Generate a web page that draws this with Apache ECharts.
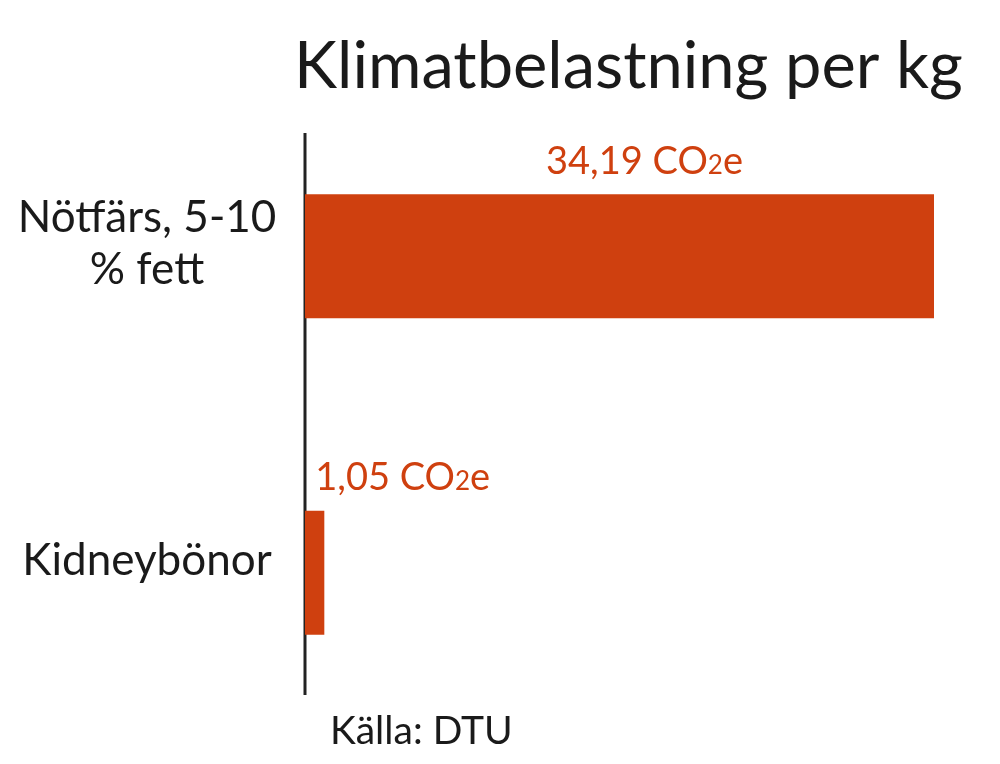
<!DOCTYPE html>
<html><head><meta charset="utf-8">
<script src="https://cdn.jsdelivr.net/npm/echarts@6/dist/echarts.min.js"></script>
<style>html,body{margin:0;padding:0;background:#fff}#c{width:1000px;height:764px}</style>
</head><body><div id="c"></div>
<script>
const categories = ["Nötfärs, 5-10\n% fett", "Kidneybönor"];
const values = [34.19, 1.05];
const valueLabels = ["34,19", "1,05"];
const titleText = "Klimatbelastning per kg";
const sourceText = "Källa: DTU";

const FONT = "Lato";
const ORANGE = "#CF400F";
const labelOffsets = [[25, 0], [88, 0]];

const chart = echarts.init(document.getElementById('c'), null, {renderer: 'canvas'});
chart.setOption({
  animation: false,
  backgroundColor: '#fff',
  title: {
    text: titleText, left: 289, top: 30,
    textStyle: {fontFamily: FONT, fontSize: 65, fontWeight: 'normal', color: '#1a1a1a'}
  },
  graphic: [
    {type: 'line', shape: {x1: 305, y1: 133, x2: 305, y2: 695}, style: {stroke: '#222', lineWidth: 3}},
    {type: 'text', left: 330, top: 712, style: {text: sourceText, font: '39px ' + FONT, fill: '#1a1a1a'}}
  ],
  grid: {left: 305, right: 66, top: 98, bottom: 33, containLabel: false},
  xAxis: {type: 'value', min: 0, max: 'dataMax', show: false},
  yAxis: {
    type: 'category', data: categories, inverse: true,
    axisLine: {show: false}, axisTick: {show: false},
    axisLabel: {
      align: 'center', margin: 158,
      formatter: v => v.split('\n').map(l => '{a|' + l + '}').join('\n') + '\n{e| }',
      rich: {
        a: {fontFamily: FONT, fontSize: 44, color: '#1a1a1a', lineHeight: 52},
        e: {fontSize: 2, lineHeight: 24}
      }
    }
  },
  series: [{
    type: 'bar', barWidth: 124,
    itemStyle: {color: ORANGE},
    data: values.map((v, i) => ({
      value: v,
      label: {
        show: true, position: 'top', distance: 14, offset: labelOffsets[i],
        formatter: '{v|' + valueLabels[i] + ' CO}{s|2}{v|e}',
        rich: {
          v: {fontFamily: FONT, fontSize: 38, color: ORANGE},
          s: {fontFamily: FONT, fontSize: 26, color: ORANGE, verticalAlign: 'bottom', padding: [0,0,2,0]}
        }
      }
    }))
  }]
});
</script></body></html>
